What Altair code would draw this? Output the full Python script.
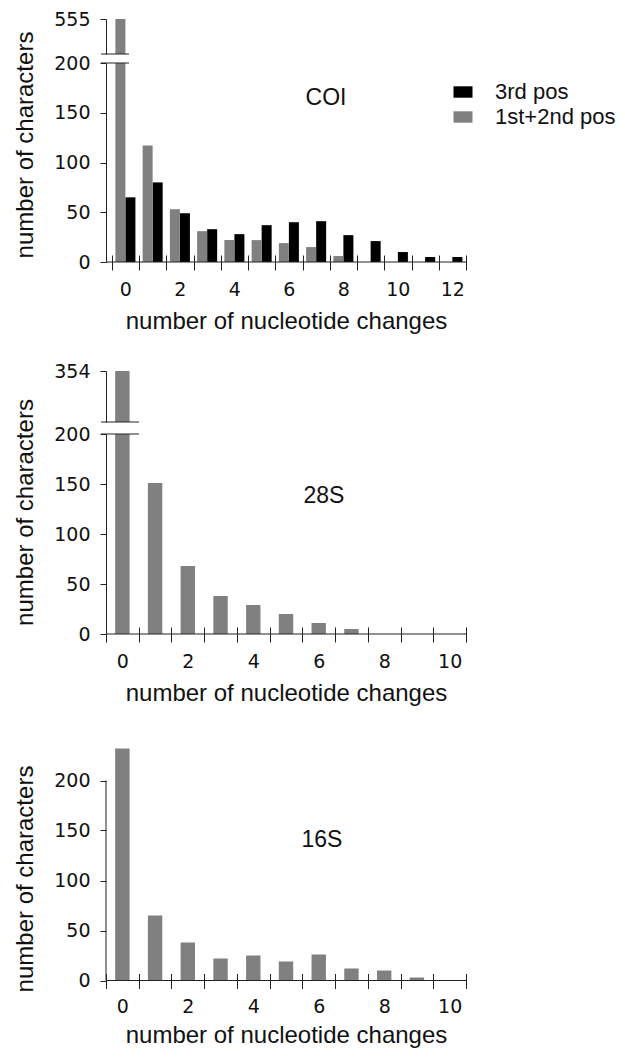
import altair as alt
import pandas as pd

# ---------------- data ----------------
coi_changes = list(range(13))
coi_third_pos = [65, 80, 49, 33, 28, 37, 40, 41, 27, 21, 10, 5, 5]
coi_first_second_pos = [555, 117, 53, 31, 22, 22, 19, 15, 6, 0, 0, 0, 0]

s28_changes = list(range(11))
s28_counts = [354, 151, 68, 38, 29, 20, 11, 5, 0, 0, 0]

s16_changes = list(range(11))
s16_counts = [232, 65, 38, 22, 25, 19, 26, 12, 10, 3, 0]

series_names = ["3rd pos", "1st+2nd pos"]
y_ticks_low = [0, 50, 100, 150, 200]

# ---------------- style ----------------
GRAY = "#808080"
BLACK = "#000000"
AXC = "#222222"
TXT = "#111111"
TICK_FONT = "DejaVu Sans"
TITLE_FONT = "Liberation Sans"
W = 360

coi_df = pd.DataFrame({
    "changes": coi_changes * 2,
    "series": [series_names[0]] * 13 + [series_names[1]] * 13,
    "count": coi_third_pos + coi_first_second_pos,
})
s28_df = pd.DataFrame({"changes": s28_changes, "count": s28_counts})
s16_df = pd.DataFrame({"changes": s16_changes, "count": s16_counts})
one = pd.DataFrame({"k": [0]})


def x_enc(domain, show_axis, pad=0.0, align=0.5, label_pad=10, title_pad=10):
    scale = alt.Scale(domain=domain, paddingInner=0, paddingOuter=pad, align=align)
    if not show_axis:
        return alt.X("changes:O", scale=scale, axis=None)
    return alt.X(
        "changes:O",
        scale=scale,
        axis=alt.Axis(
            title="number of nucleotide changes",
            tickBand="extent",
            domain=False,
            offset=-7,
            tickSize=15,
            tickColor=AXC,
            labelAngle=0,
            labelExpr="datum.value % 2 == 0 ? datum.label : ''",
            labelFont=TICK_FONT,
            labelFontSize=19,
            labelColor=TXT,
            labelPadding=label_pad,
            titleFont=TITLE_FONT,
            titleFontSize=24,
            titleFontWeight="normal",
            titleColor=TXT,
            titlePadding=title_pad,
        ),
    )


def y_axis(values, title=None, titleY=None, domain=True):
    kw = dict(
        values=values,
        grid=False,
        tickSize=6,
        tickColor=AXC,
        domain=domain,
        domainColor=AXC,
        labelFont=TICK_FONT,
        labelFontSize=19,
        labelColor=TXT,
        labelPadding=10,
    )
    if title is not None:
        kw.update(
            title=title,
            titleFont=TITLE_FONT,
            titleFontSize=24,
            titleFontWeight="normal",
            titleColor=TXT,
            titlePadding=16,
        )
        if titleY is not None:
            kw["titleY"] = titleY
    else:
        kw["title"] = None
    return alt.Axis(**kw)


def break_rule(y_px, x1, x2):
    return alt.Chart(one).mark_rule(color=AXC, strokeWidth=1).encode(
        x=alt.value(x1), x2=alt.value(x2), y=alt.value(y_px)
    )


def label_text(txt, xp, yp):
    return alt.Chart(one).mark_text(
        text=txt, font=TITLE_FONT, fontSize=23, color=TXT, align="center", baseline="middle"
    ).encode(x=alt.value(xp), y=alt.value(yp))


def baseline():
    return alt.Chart(one).mark_rule(color=AXC, strokeWidth=1).encode(y=alt.datum(0))


xoff = alt.XOffset(
    "series:N", scale=alt.Scale(domain=["1st+2nd pos", "3rd pos"], paddingOuter=0.36, paddingInner=0)
)

# ---------------- COI ----------------
COI_UP_H = 35
coi_up_bars = alt.Chart(coi_df).transform_filter("datum.count > 200").mark_bar(color=GRAY, clip=True).encode(
    x=x_enc(coi_changes, False, pad=0.106, align=1),
    xOffset=xoff,
    y=alt.Y("count:Q", scale=alt.Scale(domain=[520, 555], nice=False, zero=False), axis=y_axis([555])),
)
coi_up = alt.layer(coi_up_bars, break_rule(COI_UP_H, -5, 23)).properties(width=W, height=COI_UP_H)

coi_low_bars = alt.Chart(coi_df).mark_bar(clip=True).encode(
    x=x_enc(coi_changes, True, pad=0.106, align=1),
    xOffset=xoff,
    y=alt.Y("count:Q", scale=alt.Scale(domain=[0, 200], nice=False),
            axis=y_axis(y_ticks_low, "number of characters", titleY=81.5)),
    color=alt.Color(
        "series:N",
        scale=alt.Scale(domain=series_names, range=[BLACK, GRAY]),
        legend=alt.Legend(
            title=None,
            orient="none",
            legendX=346,
            legendY=18,
            symbolType="M-1,-0.6H1V0.6H-1Z",
            symbolSize=361,
            symbolStrokeWidth=0,
            labelFont=TITLE_FONT,
            labelFontSize=22,
            labelColor=TXT,
            labelOffset=21,
            rowPadding=3,
            padding=0,
        ),
    ),
)
coi_low = alt.layer(
    coi_low_bars, baseline(), break_rule(0, -5, 23), label_text("COI", 220, 34.5)
).properties(width=W, height=199)

coi = alt.vconcat(coi_up, coi_low, spacing=9, bounds="flush").resolve_scale(color="independent")

# ---------------- 28S ----------------
S28_UP_H = 51
s28_up_bars = alt.Chart(s28_df).transform_filter("datum.count > 200").mark_bar(
    color=GRAY, clip=True, width=alt.RelativeBandSize(0.44)
).encode(
    x=x_enc(s28_changes, False),
    y=alt.Y("count:Q", scale=alt.Scale(domain=[300, 354], nice=False, zero=False), axis=y_axis([354])),
)
s28_up = alt.layer(s28_up_bars, break_rule(S28_UP_H, -5, 33)).properties(width=W, height=S28_UP_H)

s28_low_bars = alt.Chart(s28_df).mark_bar(color=GRAY, clip=True, width=alt.RelativeBandSize(0.44)).encode(
    x=x_enc(s28_changes, True),
    y=alt.Y("count:Q", scale=alt.Scale(domain=[0, 200], nice=False),
            axis=y_axis(y_ticks_low, "number of characters", titleY=78)),
)
s28_low = alt.layer(
    s28_low_bars, baseline(), break_rule(0, -5, 33), label_text("28S", 218, 62)
).properties(width=W, height=200)

s28 = alt.vconcat(s28_up, s28_low, spacing=12, bounds="flush")

# ---------------- 16S ----------------
S16_TOP = 246.5
s16_bars = alt.Chart(s16_df).mark_bar(color=GRAY, width=alt.RelativeBandSize(0.44)).encode(
    x=x_enc(s16_changes, True, label_pad=9, title_pad=7),
    y=alt.Y("count:Q", scale=alt.Scale(domain=[0, S16_TOP], nice=False),
            axis=y_axis(y_ticks_low, "number of characters", titleY=144.5, domain=False)),
)
s16_yline = alt.Chart(one).mark_rule(color=AXC, strokeWidth=1).encode(
    x=alt.value(0), y=alt.datum(0), y2=alt.datum(200)
)
s16 = alt.layer(s16_bars, baseline(), s16_yline, label_text("16S", 216, 105.5)).properties(
    width=W, height=S16_TOP
)

chart = (
    alt.vconcat(coi, s28, s16, spacing=29)
    .resolve_scale(color="independent")
    .properties(padding={"left": 5, "top": 2, "right": 0, "bottom": 0})
    .configure_view(stroke=None)
)

chart.save("out.html", embed_options={"renderer": "svg", "actions": False})
